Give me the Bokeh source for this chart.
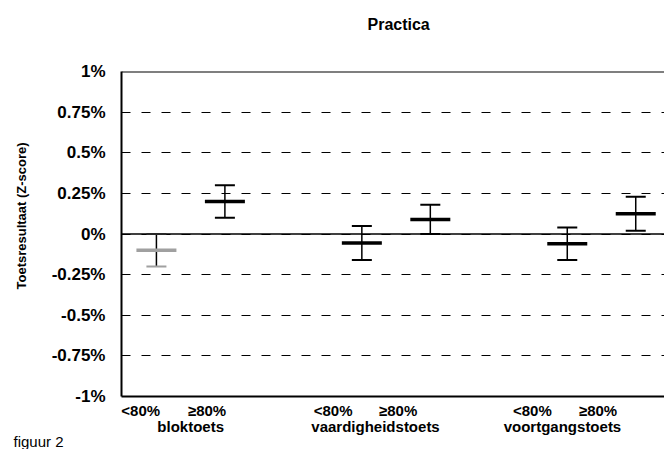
import math
from bokeh.plotting import figure
from bokeh.models import Range1d, FixedTicker, LinearAxis, Span, Title
from bokeh.embed import file_html
from bokeh.resources import INLINE

# ---- data ----
groups = ["bloktoets", "vaardigheidstoets", "voortgangstoets"]
subgroups = ["<80%", "≥80%", "<80%", "≥80%", "<80%", "≥80%"]
x_pos = [0, 1, 3, 4, 6, 7]
means = [-0.10, 0.20, -0.055, 0.09, -0.06, 0.125]
errors = [0.10, 0.10, 0.105, 0.09, 0.10, 0.105]
mean_colors = ["#a0a0a0", "black", "black", "black", "black", "black"]
sub_label_pos = [-0.23, 0.74, 2.58, 3.53, 5.49, 6.45]
group_label_pos = [0.5, 3.2, 5.93]
y_ticks = [-1, -0.75, -0.5, -0.25, 0, 0.25, 0.5, 0.75, 1]
y_tick_labels = ["-1%", "-0.75%", "-0.5%", "-0.25%", "0%", "0.25%", "0.5%", "0.75%", "1%"]

upper = [m + e for m, e in zip(means, errors)]
lower = [m - e for m, e in zip(means, errors)]

FONT = "Liberation Sans"
NBSP = "\u00a0"

p = figure(width=664, height=449, x_range=Range1d(-0.51, 7.42), y_range=Range1d(-1, 1),
           output_backend="svg", toolbar_location=None,
           min_border_left=121, min_border_right=0, min_border_top=71, min_border_bottom=53)
p.outline_line_color = None
p.xgrid.visible = False
p.ygrid.ticker = FixedTicker(ticks=y_ticks)
p.ygrid.grid_line_color = "black"
p.ygrid.grid_line_dash = "9 11"
p.ygrid.grid_line_width = 1

# title
p.title.text = "Practica\n" + NBSP + "\n" + NBSP
p.title.align = "left"
p.title.offset = 246
p.title.text_font = FONT
p.title.text_font_style = "bold"
p.title.text_font_size = "16px"
p.title.text_line_height = 1.1
p.title.standoff = 3
p.title.text_color = "black"

# y axis
p.yaxis.ticker = FixedTicker(ticks=y_ticks)
p.yaxis.major_label_overrides = {t: l for t, l in zip(y_ticks, y_tick_labels)}
p.yaxis.axis_line_width = 2
p.yaxis.axis_line_color = "black"
p.yaxis.major_tick_line_color = None
p.yaxis.minor_tick_line_color = None
p.yaxis.major_label_text_font = FONT
p.yaxis.major_label_text_font_style = "bold"
p.yaxis.major_label_text_font_size = "17px"
p.yaxis.major_label_text_color = "black"
p.yaxis.major_label_standoff = 10
p.yaxis.axis_label = NBSP * 10 + "Toetsresultaat (Z-score)"
p.yaxis.axis_label_text_font = FONT
p.yaxis.axis_label_text_font_style = "bold"
p.yaxis.axis_label_text_font_size = "13px"
p.yaxis.axis_label_text_color = "black"
p.yaxis.axis_label_standoff = 20

# x axis (sub labels)
p.xaxis.ticker = FixedTicker(ticks=sub_label_pos)
p.xaxis.major_label_overrides = {t: l for t, l in zip(sub_label_pos, subgroups)}
p.xaxis.axis_line_width = 2
p.xaxis.axis_line_color = "black"
p.xaxis.major_tick_line_color = None
p.xaxis.minor_tick_line_color = None
p.xaxis.major_label_text_font = FONT
p.xaxis.major_label_text_font_style = "bold"
p.xaxis.major_label_text_font_size = "15px"
p.xaxis.major_label_text_color = "black"
p.xaxis.major_label_standoff = -1

gax = LinearAxis(ticker=FixedTicker(ticks=group_label_pos),
                 major_label_overrides={t: l for t, l in zip(group_label_pos, groups)})
gax.axis_line_color = None
gax.major_tick_line_color = None
gax.minor_tick_line_color = None
gax.major_label_text_font = FONT
gax.major_label_text_font_style = "bold"
gax.major_label_text_font_size = "15px"
gax.major_label_text_color = "black"
gax.major_label_standoff = -10
p.add_layout(gax, "below")

fig_title = Title(text="figuur 2", align="left", offset=-108, text_font=FONT,
                  text_font_style="normal", text_font_size="15px", text_color="black",
                  standoff=-13)
p.add_layout(fig_title, "below")

# solid lines at 0 and top
p.add_layout(Span(location=0, dimension="width", line_color="black", line_width=1.5))
p.add_layout(Span(location=1, dimension="width", line_color="black", line_width=2))

# error bars
p.segment(x0=x_pos, y0=lower, x1=x_pos, y1=upper, line_color="black", line_width=1.5)
p.scatter(x=x_pos, y=upper, marker="dash", size=20, line_width=2, line_color=mean_colors)
p.scatter(x=x_pos, y=lower, marker="dash", size=20, line_width=2, line_color=mean_colors)
p.scatter(x=x_pos, y=means, marker="dash", size=40, line_width=3.5, line_color=mean_colors)

open("out.html", "w").write(file_html(p, INLINE))
